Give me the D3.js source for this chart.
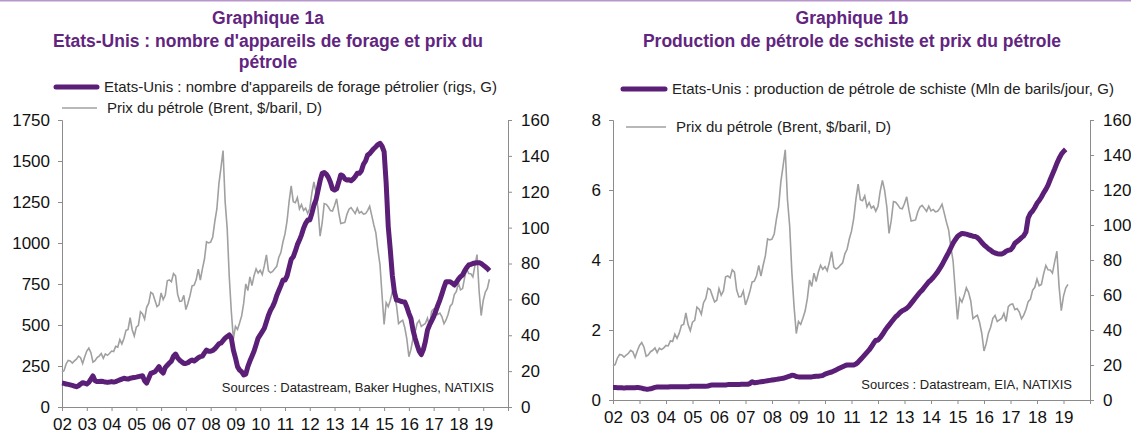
<!DOCTYPE html>
<html>
<head>
<meta charset="utf-8">
<script src="https://cdn.jsdelivr.net/npm/d3@7"></script>
<style>
  body { margin: 0; background: #fff; font-family: Arial, "Liberation Sans", sans-serif; }
  .title { fill: #62257f; font-weight: bold; font-size: 17.5px; text-anchor: middle; }
  .legend-text { fill: #222; font-size: 15px; }
  .source { fill: #222; font-size: 13px; text-anchor: end; }
  .axis path, .axis line { stroke: #8c8c8c; }
  .axis text { fill: #111; font-size: 17px; font-family: Arial, "Liberation Sans", sans-serif; }
</style>
</head>
<body>
<svg id="chart" width="1131" height="434"></svg>
<script>
// years shown on the x axis
const yearTicks = d3.range(2002, 2020);

// Brent, $/baril, monthly from Jan 2002
const brent = [
  19.4, 20.3, 24.0, 26.0, 25.7, 24.5, 25.7, 26.7, 28.4, 27.5, 24.3, 28.0,
  31.2, 32.8, 30.3, 25.0, 25.8, 27.6, 28.4, 29.8, 27.1, 29.6, 28.8, 29.8,
  31.2, 30.9, 33.8, 33.4, 37.6, 35.2, 38.2, 42.7, 43.2, 49.8, 43.1, 39.6,
  44.5, 45.5, 53.1, 51.9, 49.0, 55.6, 57.9, 63.9, 63.1, 59.5, 56.0, 57.0,
  63.6, 59.9, 62.3, 70.4, 70.9, 69.8, 74.4, 73.1, 62.8, 58.9, 59.1, 62.3,
  54.3, 57.8, 62.1, 67.5, 67.9, 71.0, 76.9, 70.8, 77.0, 82.5, 92.1, 91.5,
  91.9, 94.8, 103.3, 110.4, 124.6, 133.5, 143.0, 114.6, 99.6, 72.8, 53.2, 38.0,
  44.9, 43.2, 46.8, 50.8, 57.9, 68.6, 64.9, 72.5, 67.7, 73.2, 77.0, 74.7,
  76.2, 73.8, 78.8, 84.8, 75.9, 74.8, 75.6, 77.1, 78.4, 83.5, 86.1, 92.0,
  96.5, 103.7, 114.6, 123.3, 114.5, 113.9, 116.7, 110.4, 112.8, 109.6, 110.8, 107.9,
  110.7, 119.3, 125.5, 119.8, 110.3, 95.2, 102.6, 113.4, 113.0, 111.5, 109.5, 109.2,
  112.3, 116.1, 108.5, 102.3, 102.6, 102.9, 107.4, 110.3, 111.2, 109.5, 107.8, 110.8,
  108.1, 108.9, 107.5, 107.8, 109.5, 111.9, 106.8, 101.6, 97.1, 87.4, 79.4, 62.3,
  46.0, 58.1, 55.9, 59.5, 64.1, 61.5, 56.6, 46.5, 47.6, 48.4, 44.3, 38.0,
  28.0, 32.2, 38.2, 41.6, 46.7, 48.3, 44.9, 45.8, 46.6, 49.5, 44.9, 53.3,
  54.6, 54.9, 51.6, 52.3, 50.3, 46.4, 48.5, 51.7, 56.2, 57.5, 62.7, 64.4,
  69.1, 65.3, 66.0, 72.1, 76.9, 74.4, 74.3, 72.5, 78.9, 85.0, 64.8, 51.0,
  59.4, 64.0, 66.1, 71.2
];

// US oil rigs (Baker Hughes), monthly from Jan 2002
const rigs = [
  146, 144, 140, 138, 135, 132, 128, 124, 130, 140, 148, 145,
  140, 150, 170, 189, 160, 155, 155, 157, 155, 152, 150, 152,
  155, 152, 155, 160, 165, 170, 175, 172, 170, 175, 178, 180,
  182, 185, 188, 190, 160, 146, 175, 205, 210, 215, 230, 246,
  220, 207, 240, 255, 268, 280, 310, 323, 300, 285, 275, 266,
  266, 270, 280, 286, 280, 290, 300, 307, 310, 330, 347, 340,
  340, 345, 355, 370, 385, 390, 405, 420, 430, 439, 420, 347,
  300, 246, 225, 215, 195, 200, 246, 280, 310, 340, 380, 420,
  440, 460, 480, 520, 560, 590, 612, 640, 680, 710, 740, 774,
  774, 800, 850, 900, 916, 950, 990, 1018, 1050, 1090, 1120, 1140,
  1140, 1180, 1230, 1262, 1320, 1380, 1425, 1430, 1420, 1400, 1370, 1330,
  1323, 1330, 1370, 1415, 1410, 1390, 1384, 1385, 1380, 1390, 1405, 1425,
  1425, 1440, 1480, 1500, 1536, 1545, 1560, 1575, 1587, 1600, 1608, 1590,
  1557, 1364, 1100, 957, 800, 700, 652, 650, 645, 642, 640, 610,
  571, 540, 469, 420, 378, 340, 320, 350, 400, 469, 500, 525,
  551, 585, 620, 652, 690, 730, 764, 764, 764, 755, 744, 760,
  780, 795, 805, 830, 850, 866, 870, 875, 878, 880, 880, 875,
  865, 855, 845, 831
];

// US shale oil production, Mln barils/jour, monthly from Jan 2002
const shale = [
  0.36, 0.36, 0.35, 0.35, 0.35, 0.34, 0.35, 0.35, 0.35, 0.35, 0.35, 0.36,
  0.35, 0.34, 0.32, 0.31, 0.31, 0.32, 0.34, 0.36, 0.37, 0.37, 0.37, 0.37,
  0.37, 0.37, 0.38, 0.38, 0.38, 0.38, 0.38, 0.38, 0.38, 0.38, 0.38, 0.39,
  0.39, 0.39, 0.39, 0.39, 0.39, 0.39, 0.39, 0.40, 0.42, 0.43, 0.43, 0.43,
  0.43, 0.43, 0.43, 0.43, 0.44, 0.44, 0.44, 0.44, 0.44, 0.44, 0.45, 0.45,
  0.45, 0.45, 0.47, 0.52, 0.49, 0.50, 0.51, 0.52, 0.53, 0.54, 0.55, 0.56,
  0.57, 0.58, 0.59, 0.60, 0.61, 0.62, 0.64, 0.66, 0.68, 0.71, 0.70, 0.67,
  0.66, 0.66, 0.66, 0.66, 0.66, 0.66, 0.66, 0.67, 0.68, 0.68, 0.69, 0.70,
  0.74, 0.76, 0.78, 0.80, 0.83, 0.86, 0.89, 0.92, 0.95, 0.98, 1.00, 1.00,
  1.00, 1.00, 1.03, 1.08, 1.15, 1.22, 1.29, 1.36, 1.43, 1.52, 1.62, 1.71,
  1.71, 1.78, 1.87, 1.97, 2.06, 2.14, 2.22, 2.30, 2.38, 2.43, 2.50, 2.55,
  2.58, 2.62, 2.68, 2.76, 2.84, 2.92, 3.00, 3.08, 3.14, 3.22, 3.30, 3.38,
  3.43, 3.50, 3.58, 3.66, 3.76, 3.86, 3.98, 4.10, 4.22, 4.35, 4.48, 4.58,
  4.67, 4.72, 4.76, 4.75, 4.74, 4.72, 4.70, 4.68, 4.67, 4.64, 4.58, 4.50,
  4.43, 4.38, 4.32, 4.28, 4.23, 4.20, 4.18, 4.17, 4.17, 4.20, 4.25, 4.28,
  4.29, 4.36, 4.48, 4.53, 4.58, 4.64, 4.69, 4.80, 5.20, 5.33, 5.40, 5.50,
  5.62, 5.70, 5.80, 5.92, 6.02, 6.14, 6.30, 6.45, 6.60, 6.76, 6.90, 7.02,
  7.10, 7.16
];

const rigTicks = d3.range(0, 1751, 250);
const shaleTicks = [0, 2, 4, 6, 8];
const priceTicks = d3.range(0, 161, 20);

const purple = "#5b1f78";
const grey = "#a0a0a0";

const svg = d3.select("#chart");

// thin line on top of the page
svg.append("line")
  .attr("x1", 0).attr("x2", 1131)
  .attr("y1", 0.75).attr("y2", 0.75)
  .attr("stroke", "#b896cc")
  .attr("stroke-width", 1.5);

function drawPanel(p) {
  const x = d3.scaleLinear().domain([2002, 2020]).range([p.left, p.right]);
  const yL = d3.scaleLinear().domain([0, p.leftMax]).range([p.bottom, p.top]);
  const yR = d3.scaleLinear().domain([0, 160]).range([p.bottom, p.top]);
  const t = (i) => 2002 + i / 12;

  // titles
  p.titles.forEach((s, i) => {
    svg.append("text")
      .attr("class", "title")
      .attr("x", p.titleX)
      .attr("y", p.titleY[i])
      .text(s);
  });

  // axes
  svg.append("g")
    .attr("class", "axis")
    .attr("transform", `translate(0,${p.bottom})`)
    .call(d3.axisBottom(x).tickValues(yearTicks).tickFormat((d) => String(d).slice(2)).tickSize(4).tickPadding(7));

  svg.append("g")
    .attr("class", "axis")
    .attr("transform", `translate(${p.left},0)`)
    .call(d3.axisLeft(yL).tickValues(p.leftTicks).tickFormat(d3.format("d")).tickSize(4).tickPadding(8));

  svg.append("g")
    .attr("class", "axis")
    .attr("transform", `translate(${p.right},0)`)
    .call(d3.axisRight(yR).tickValues(priceTicks).tickSize(4).tickPadding(9));

  // price line
  svg.append("path")
    .datum(p.price)
    .attr("fill", "none")
    .attr("stroke", grey)
    .attr("stroke-width", 1.6)
    .attr("d", d3.line().x((d, i) => x(t(i))).y((d) => yR(d)));

  // main series
  svg.append("path")
    .datum(p.main)
    .attr("fill", "none")
    .attr("stroke", purple)
    .attr("stroke-width", 5)
    .attr("stroke-linejoin", "round")
    .attr("d", d3.line().x((d, i) => x(t(i))).y((d) => yL(d)));

  // legend
  svg.append("line")
    .attr("x1", p.leg1[0]).attr("x2", p.leg1[1])
    .attr("y1", p.leg1[2]).attr("y2", p.leg1[2])
    .attr("stroke", purple).attr("stroke-width", 5).attr("stroke-linecap", "round");
  svg.append("text")
    .attr("class", "legend-text")
    .attr("x", p.leg1[1] + 7).attr("y", p.leg1[2] + 5)
    .text(p.legendMain);

  svg.append("line")
    .attr("x1", p.leg2[0]).attr("x2", p.leg2[1])
    .attr("y1", p.leg2[2]).attr("y2", p.leg2[2])
    .attr("stroke", grey).attr("stroke-width", 1.6);
  svg.append("text")
    .attr("class", "legend-text")
    .attr("x", p.leg2[1] + 10).attr("y", p.leg2[2] + 5)
    .text("Prix du pétrole (Brent, $/baril, D)");

  svg.append("text")
    .attr("class", "source")
    .attr("x", p.sourceX).attr("y", p.sourceY)
    .text(p.source);
}

drawPanel({
  left: 62, right: 508, top: 120, bottom: 407,
  leftMax: 1750, leftTicks: rigTicks,
  main: rigs, price: brent,
  titleX: 268, titleY: [24, 47, 68],
  titles: ["Graphique 1a", "Etats-Unis : nombre d'appareils de forage et prix du", "pétrole"],
  leg1: [56, 97, 87],
  leg2: [62, 97, 108],
  legendMain: "Etats-Unis : nombre d'appareils de forage pétrolier (rigs, G)",
  source: "Sources : Datastream, Baker Hughes, NATIXIS",
  sourceX: 494, sourceY: 392
});

drawPanel({
  left: 613, right: 1090, top: 120, bottom: 400,
  leftMax: 8, leftTicks: shaleTicks,
  main: shale, price: brent.slice(0, 207),
  titleX: 852, titleY: [24, 47],
  titles: ["Graphique 1b", "Production de pétrole de schiste et prix du pétrole"],
  leg1: [623, 665, 89],
  leg2: [626, 666, 127],
  legendMain: "Etats-Unis : production de pétrole de schiste (Mln de barils/jour, G)",
  source: "Sources : Datastream, EIA, NATIXIS",
  sourceX: 1072, sourceY: 389
});
</script>
</body>
</html>
